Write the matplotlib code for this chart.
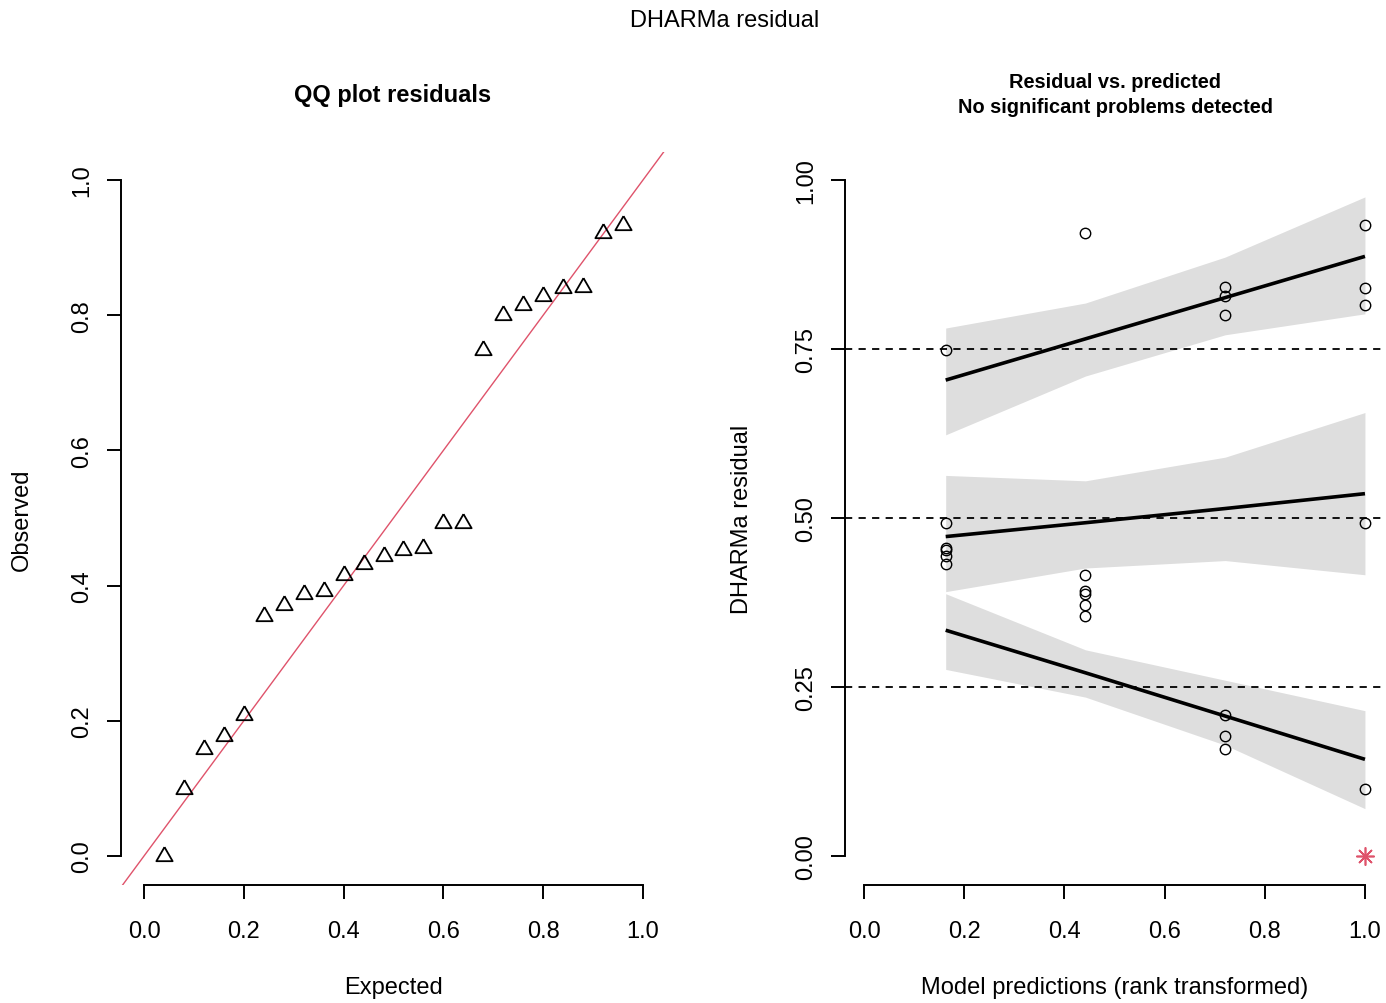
import numpy as np
import matplotlib
matplotlib.use("Agg")
import matplotlib.pyplot as plt

plt.rcParams['font.family'] = ['Liberation Sans', 'DejaVu Sans']

# ---------------- data ----------------
# rank-transformed model predictions (4 groups) and DHARMa residuals
pred_rank = [0.163, 0.163, 0.163, 0.163, 0.163, 0.163,
             0.442, 0.442, 0.442, 0.442, 0.442, 0.442,
             0.721, 0.721, 0.721, 0.721, 0.721, 0.721,
             1.0, 1.0, 1.0, 1.0, 1.0, 1.0]
residuals = [0.748, 0.493, 0.456, 0.452, 0.444, 0.432,
             0.921, 0.416, 0.392, 0.387, 0.372, 0.355,
             0.841, 0.829, 0.800, 0.208, 0.178, 0.159,
             0.933, 0.840, 0.815, 0.493, 0.099, 0.0]
outlier = [False] * 23 + [True]

qq_expected = [0.04, 0.08, 0.12, 0.16, 0.20, 0.24, 0.28, 0.32, 0.36, 0.40, 0.44, 0.48,
               0.52, 0.56, 0.60, 0.64, 0.68, 0.72, 0.76, 0.80, 0.84, 0.88, 0.92, 0.96]

# quantile regression fits (at the 4 prediction ranks)
q_x = [0.163, 0.442, 0.721, 1.0]
q75_fit = [0.704, 0.765, 0.826, 0.887]
q75_hi = [0.781, 0.818, 0.886, 0.975]
q75_lo = [0.623, 0.710, 0.771, 0.802]
q50_fit = [0.4725, 0.493, 0.514, 0.536]
q50_hi = [0.563, 0.555, 0.590, 0.656]
q50_lo = [0.391, 0.426, 0.437, 0.416]
q25_fit = [0.334, 0.271, 0.207, 0.143]
q25_hi = [0.388, 0.305, 0.260, 0.215]
q25_lo = [0.276, 0.235, 0.164, 0.070]
ref_quantiles = [0.25, 0.5, 0.75]

xticks = [0.0, 0.2, 0.4, 0.6, 0.8, 1.0]
yticks_left = [0.0, 0.2, 0.4, 0.6, 0.8, 1.0]
yticks_right = [0.0, 0.25, 0.5, 0.75, 1.0]

# ---------------- figure ----------------
W, H = 1386, 1004
fig = plt.figure(figsize=(W / 100, H / 100), dpi=100)


def rect(l, r, t, b):
    return [l / W, 1 - b / H, (r - l) / W, (b - t) / H]


FS = 17
LW = 1.4


def style_axes(ax, xt, yt, ylabels):
    for s in ['top', 'right']:
        ax.spines[s].set_visible(False)
    ax.spines['left'].set_bounds(0, 1)
    ax.spines['bottom'].set_bounds(0, 1)
    ax.spines['left'].set_linewidth(LW)
    ax.spines['bottom'].set_linewidth(LW)
    ax.set_xticks(xt)
    ax.set_xticklabels([f"{v:.1f}" for v in xt])
    ax.set_yticks(yt)
    ax.set_yticklabels(ylabels, rotation=90, va='center')
    ax.tick_params(axis='both', direction='out', length=10, width=LW,
                   labelsize=FS, colors='black')
    ax.tick_params(axis='x', pad=15)
    ax.tick_params(axis='y', pad=10)


# ---- left: QQ plot ----
ax1 = fig.add_axes(rect(121, 665, 153, 886))
ax1.set_xlim(-0.0461, 1.0441)
ax1.set_ylim(-0.0429, 1.0414)
ax1.axline((0, 0), (1, 1), color='#DF536B', lw=1.0, zorder=1)
h = np.sqrt(3) / 2
tri = [(0, 2 * h / 3), (-0.5, -h / 3), (0.5, -h / 3), (0, 2 * h / 3)]
ax1.plot(qq_expected, np.sort(residuals), linestyle='none', marker=tri,
         markersize=13.5, markerfacecolor='none', markeredgecolor='black',
         markeredgewidth=1.3, zorder=3)
style_axes(ax1, xticks, yticks_left, [f"{v:.1f}" for v in yticks_left])
ax1.set_title("QQ plot residuals", fontsize=FS, fontweight='bold', pad=0,
              y=(886 - 96) / 733, va='center')
ax1.set_xlabel("Expected", fontsize=FS)
ax1.xaxis.set_label_coords(0.5, (886 - 988) / 733)
ax1.xaxis.label.set_va('center')
ax1.set_ylabel("Observed", fontsize=FS)
ax1.yaxis.set_label_coords((22 - 121) / 544, 0.5)
ax1.yaxis.label.set_va('center')

# ---- right: residual vs predicted ----
ax2 = fig.add_axes(rect(845, 1385, 153, 886))
ax2.set_xlim(-0.038, 1.040)
ax2.set_ylim(-0.0429, 1.0414)
for q in ref_quantiles:
    ax2.axhline(q, color='black', lw=1.3, linestyle=(0, (4, 3.5)), zorder=2)
for lo, hi in [(q75_lo, q75_hi), (q50_lo, q50_hi), (q25_lo, q25_hi)]:
    ax2.fill_between(q_x, lo, hi, color='black', alpha=0.13, linewidth=0, zorder=1)
for fit in [q75_fit, q50_fit, q25_fit]:
    ax2.plot(q_x, fit, color='black', lw=2.6, zorder=3, solid_capstyle='butt')
px = np.array(pred_rank)
ry = np.array(residuals)
mask = np.array(outlier)
ax2.plot(px[~mask], ry[~mask], linestyle='none', marker='o', markersize=7.5,
         markerfacecolor='none', markeredgecolor='black', markeredgewidth=1.0, zorder=4)
ax2.plot(px[mask], ry[mask], linestyle='none', marker=(8, 2, 0), markersize=13,
         color='#DF536B', markeredgewidth=1.2, zorder=4)
style_axes(ax2, xticks, yticks_right, [f"{v:.2f}" for v in yticks_right])
ax2.set_title("Residual vs. predicted\nNo significant problems detected",
              fontsize=14.4, fontweight='bold', pad=0, linespacing=1.35,
              y=(886 - 95) / 733, va='center')
ax2.set_xlabel("Model predictions (rank transformed)", fontsize=FS)
ax2.xaxis.set_label_coords(0.5, (886 - 988) / 733)
ax2.xaxis.label.set_va('center')
ax2.set_ylabel("DHARMa residual", fontsize=FS)
ax2.yaxis.set_label_coords((742 - 845) / 540, 0.5)
ax2.yaxis.label.set_va('center')

fig.text(725 / W, 1 - 21 / H, "DHARMa residual", ha='center', va='center', fontsize=FS)

fig.savefig("out.png", dpi=100)
